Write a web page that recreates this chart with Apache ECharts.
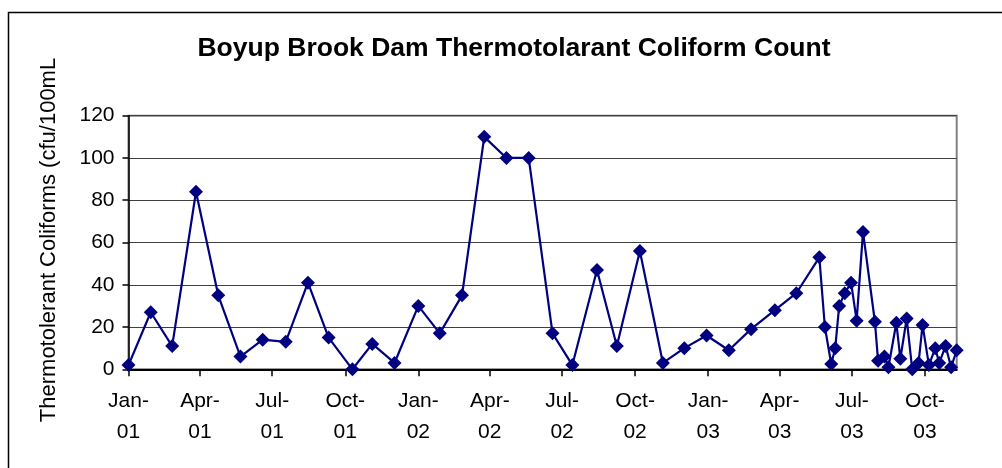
<!DOCTYPE html>
<html>
<head>
<meta charset="utf-8">
<script src="https://cdn.jsdelivr.net/npm/echarts@6/dist/echarts.min.js"></script>
<style>
html,body{margin:0;padding:0;background:#fff;}
#chart{width:1002px;height:468px;}
</style>
</head>
<body>
<div id="chart"></div>
<script>
var titleText = 'Boyup Brook Dam Thermotolarant Coliform Count';
var yAxisTitle = 'Thermotolerant Coliforms (cfu/100mL';

var sampleDates = [
  '2001-01-01','2001-01-29','2001-02-25','2001-03-27','2001-04-24','2001-05-22','2001-06-19',
  '2001-07-18','2001-08-15','2001-09-10','2001-10-10','2001-11-04','2001-12-02',
  '2002-01-01','2002-01-28','2002-02-25','2002-03-25','2002-04-22','2002-05-20','2002-06-19',
  '2002-07-14','2002-08-14','2002-09-08','2002-10-07','2002-11-05','2002-12-02','2002-12-30',
  '2003-01-27','2003-02-24','2003-03-26','2003-04-22','2003-05-21','2003-05-28','2003-06-05',
  '2003-06-10','2003-06-15','2003-06-22','2003-06-30','2003-07-07','2003-07-15','2003-07-30',
  '2003-08-03','2003-08-11','2003-08-16','2003-08-26','2003-08-31','2003-09-08','2003-09-15',
  '2003-09-23','2003-09-28','2003-10-06','2003-10-14','2003-10-19','2003-10-27','2003-11-03',
  '2003-11-10'
];
var coliformCounts = [
  2, 27, 11, 84, 35, 6, 14,
  13, 41, 15, 0, 12, 3,
  30, 17, 35, 110, 100, 100, 17,
  2, 47, 11, 56, 3, 10, 16,
  9, 19, 28, 36, 53, 20, 2.5,
  10, 30, 36, 41, 23, 65, 22.5,
  4, 6, 1, 22, 5, 24, 0,
  3, 21, 2, 10, 3, 11, 1,
  9
];
var tickDates = [
  '2001-01-01','2001-04-01','2001-07-01','2001-10-01',
  '2002-01-01','2002-04-01','2002-07-01','2002-10-01',
  '2003-01-01','2003-04-01','2003-07-01','2003-10-01'
];
var tickLabels = [
  'Jan-\n01','Apr-\n01','Jul-\n01','Oct-\n01',
  'Jan-\n02','Apr-\n02','Jul-\n02','Oct-\n02',
  'Jan-\n03','Apr-\n03','Jul-\n03','Oct-\n03'
];

var DAY = 86400000;
function toTs(s) {
  var p = s.split('-');
  return Date.UTC(+p[0], +p[1] - 1, +p[2]);
}
var t0 = toTs(tickDates[0]);
function toDay(s) { return Math.round((toTs(s) - t0) / DAY); }
var seriesData = sampleDates.map(function (d, i) { return [toDay(d), coliformCounts[i]]; });
var tickDays = tickDates.map(toDay);

var FONT = "'Liberation Sans', Arial, sans-serif";
var chart = echarts.init(document.getElementById('chart'), null, {renderer: 'canvas'});
chart.setOption({
  animation: false,
  backgroundColor: '#ffffff',
  title: {
    text: titleText,
    left: 509, top: 44, textAlign: 'center', textVerticalAlign: 'middle',
    textStyle: {fontFamily: FONT, fontWeight: 'bold', fontSize: 26.5, color: '#000'}
  },
  graphic: [
    {type: 'rect', shape: {x: 8.5, y: 12.5, width: 1200, height: 800},
     style: {fill: 'none', stroke: '#000', lineWidth: 1.5}, z: 0},
    {type: 'text', x: 49, y: 240, rotation: Math.PI / 2,
     style: {text: yAxisTitle, fontFamily: FONT, fontSize: 22, fill: '#000',
             textAlign: 'center', textVerticalAlign: 'middle'}}
  ],
  grid: {
    left: 128.5, top: 115.7, right: 45.3, bottom: 98.7,
    show: true, borderColor: '#808080', borderWidth: 2, backgroundColor: '#fff'
  },
  xAxis: {
    type: 'value',
    min: 0,
    max: toDay(sampleDates[sampleDates.length - 1]),
    axisLine: {show: true, lineStyle: {color: '#000', width: 2}},
    axisTick: {show: true, length: 7, inside: false, customValues: tickDays,
               lineStyle: {color: '#000', width: 1.5}},
    axisLabel: {
      customValues: tickDays,
      fontFamily: FONT, fontSize: 21, color: '#000', lineHeight: 31, margin: 16,
      showMinLabel: true, showMaxLabel: true, hideOverlap: false,
      formatter: function (v) {
        var i = tickDays.indexOf(v);
        return i >= 0 ? tickLabels[i] : '';
      }
    },
    splitLine: {show: false}
  },
  yAxis: {
    type: 'value', min: 0, max: 120, interval: 20,
    axisLine: {show: true, lineStyle: {color: '#000', width: 1.5}},
    axisTick: {show: true, length: 6, lineStyle: {color: '#000', width: 1.5}},
    axisLabel: {fontFamily: FONT, fontSize: 21, color: '#000', margin: 14},
    splitLine: {show: true, lineStyle: {color: '#404040', width: 1.2}}
  },
  series: [{
    type: 'line',
    data: seriesData,
    symbol: 'diamond', symbolSize: 14,
    lineStyle: {color: '#000080', width: 2.2},
    itemStyle: {color: '#000080'},
    clip: false
  }]
});
</script>
</body>
</html>
